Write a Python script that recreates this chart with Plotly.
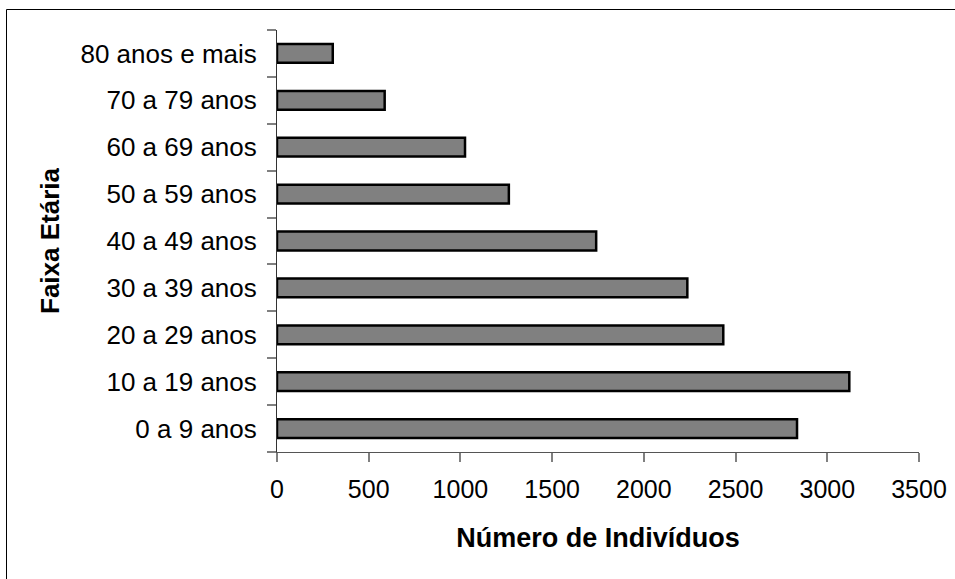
import plotly.graph_objects as go

categorias = ["0 a 9 anos", "10 a 19 anos", "20 a 29 anos", "30 a 39 anos",
              "40 a 49 anos", "50 a 59 anos", "60 a 69 anos", "70 a 79 anos",
              "80 anos e mais"]
individuos = [2835, 3120, 2433, 2237, 1740, 1264, 1025, 587, 304]
x_ticks = [0, 500, 1000, 1500, 2000, 2500, 3000, 3500]

W, H = 955, 579
L, T = 277, 30
PW, PH = 642, 422
R = W - L - PW
B = H - T - PH

fig = go.Figure(go.Bar(
    x=individuos, y=categorias, orientation="h",
    width=0.4,
    marker=dict(color="#808080", line=dict(color="black", width=2.5)),
    hoverinfo="x+y",
))

font = dict(family="Liberation Sans, Arial, sans-serif", size=25, color="black")

fig.update_layout(
    width=W, height=H,
    margin=dict(l=L, r=R, t=T, b=B, autoexpand=False),
    paper_bgcolor="white", plot_bgcolor="white",
    font=font, showlegend=False,
    xaxis=dict(
        range=[0, 3500], tickvals=x_ticks, ticktext=[str(v) for v in x_ticks],
        showgrid=False, zeroline=False,
        showline=True, linecolor="#555555", linewidth=1,
        ticks="outside", ticklen=9, tickcolor="#808080", tickwidth=2,
        ticklabelstandoff=6,
        tickfont=dict(size=25),
        title=dict(text="<b>Número de Indivíduos</b>", font=dict(size=27), standoff=26),
        automargin=False,
    ),
    yaxis=dict(
        type="category", categoryorder="array", categoryarray=categorias,
        range=[-0.5, len(categorias) - 0.5],
        showgrid=False, zeroline=False,
        showline=True, linecolor="#333333", linewidth=1,
        ticks="outside", ticklen=9, tickcolor="#808080", tickwidth=2,
        tickson="boundaries", ticklabelstandoff=14,
        tickfont=dict(size=26),
        title=dict(text="<b>Faixa Etária</b>", font=dict(size=26), standoff=13),
        automargin=False,
    ),
)

# outer chart border (top and left visible, right/bottom cropped off)
fig.add_shape(type="rect", xref="paper", yref="paper",
              x0=(6.5 - L) / PW, x1=(W + 20 - L) / PW,
              y0=(H - B - (H + 20)) / PH, y1=(H - B - 9.5) / PH,
              line=dict(color="black", width=1), fillcolor="rgba(0,0,0,0)",
              layer="below")

fig.write_html("out.html",
               config={"displayModeBar": False},
               post_script="document.body.style.margin='0px';document.body.style.overflow='hidden';")
